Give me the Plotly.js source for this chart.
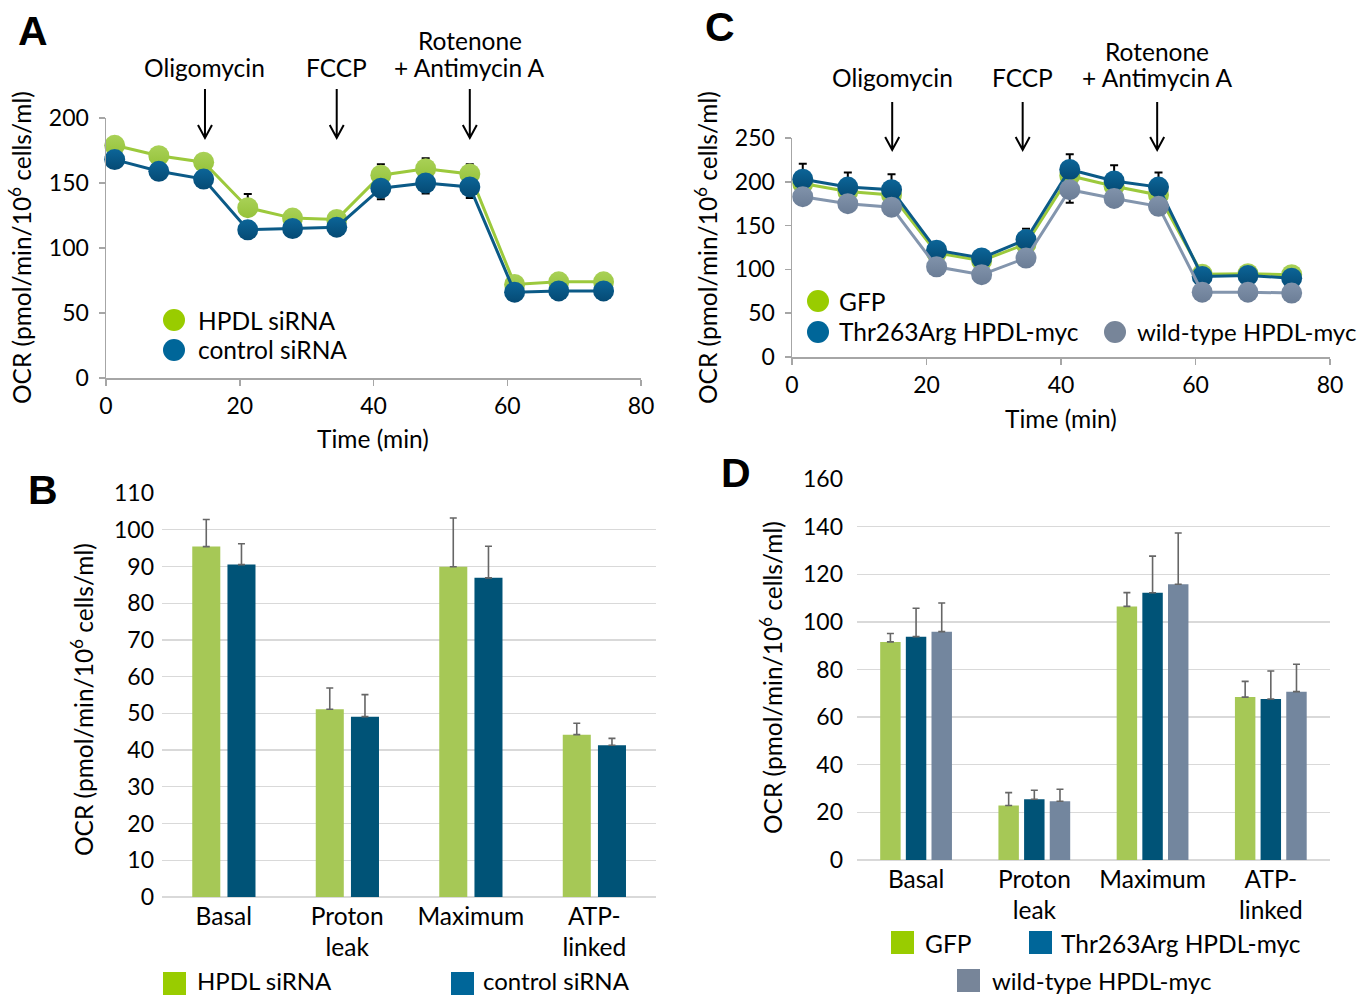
<!DOCTYPE html>
<html>
<head>
<meta charset="utf-8">
<script src="https://cdn.plot.ly/plotly-3.0.1.min.js"></script>
<style>
  html, body { margin: 0; padding: 0; background: #ffffff; }
  #chart { width: 1371px; height: 995px; }
</style>
</head>
<body>
<div id="chart"></div>
<script>
// ---------------- DATA ----------------
// Panel A: OCR time course after HPDL knock-down
const timeA = [1.3, 7.9, 14.6, 21.2, 27.9, 34.5, 41.1, 47.8, 54.4, 61.1, 67.7, 74.4];
const hpdlSiRNA = [179, 171, 166, 131, 123, 122, 156, 161, 157, 72, 74, 74];
const hpdlSiRNAErr = [3, 3, 3, 10.5, 3, 3, 8.5, 8, 7.5, 2, 2, 2];
const controlSiRNA = [168, 159, 153, 114, 115, 116, 146, 150, 147, 66, 67, 67];
const controlSiRNAErr = [3, 3, 3, 3, 3, 3, 8.5, 8, 8.5, 2, 2, 2];

// Panel C: OCR time course after HPDL expression
const timeC = [1.6, 8.3, 14.8, 21.5, 28.2, 34.8, 41.3, 47.9, 54.5, 61.0, 67.8, 74.3];
const gfp = [198, 189, 185, 119, 110, 129, 207, 195, 185, 94.5, 95, 94];
const gfpErr = [6, 6, 6, 5, 4, 5, 6, 6, 6, 3, 3, 3];
const thr263Arg = [203, 194, 191, 122, 113, 134, 214, 201, 194, 92, 93, 90];
const thr263ArgErr = [17.5, 16.5, 17.5, 9, 5, 12.5, 17.5, 18, 16.5, 4, 4, 4];
const wildType = [183, 175, 171, 103, 94, 113, 191, 181, 172, 74, 74, 73];
const wildTypeErr = [5, 5, 5, 5, 5, 5, 15, 5, 5, 3, 3, 3];

// Injection markers (min)
const drugLabels = [["Oligomycin"], ["FCCP"], ["Rotenone", "+ Antimycin A"]];
const drugTimesA = [14.8, 34.5, 54.4];
const drugTimesC = [14.9, 34.3, 54.3];

// Panels B & D: respiration parameters
const categories = ["Basal", "Proton<br>leak", "Maximum", "ATP-<br>linked"];
const barHpdlSiRNA = [95.4, 51.1, 89.9, 44.2];
const barHpdlSiRNAErr = [7.4, 5.8, 13.3, 3.1];
const barControlSiRNA = [90.5, 49.1, 86.9, 41.3];
const barControlSiRNAErr = [5.7, 6.0, 8.6, 1.9];

const barGfp = [91.6, 22.9, 106.5, 68.4];
const barGfpErr = [3.5, 5.4, 5.8, 6.6];
const barThr263Arg = [93.8, 25.5, 112.2, 67.6];
const barThr263ArgErr = [11.9, 3.8, 15.4, 11.8];
const barWildType = [95.9, 24.7, 115.8, 70.7];
const barWildTypeErr = [12.0, 5.0, 21.5, 11.5];

const seriesNamesA = ["HPDL siRNA", "control siRNA"];
const seriesNamesC = ["GFP", "Thr263Arg HPDL-myc", "wild-type HPDL-myc"];
const yTitle = "OCR (pmol/min/10<sup>6</sup> cells/ml)";
const xTitle = "Time (min)";

// ---------------- STYLE ----------------
const W = 1371, H = 995;
const X = p => p / W;
const Y = p => 1 - p / H;
const FONT = "Lato, 'Open Sans', sans-serif";
const FS = 24.5;     // text size
const TFS = 23;      // numeric tick size
const greenLine = "#9cc93c", greenMarker = "#a9d157", greenMarkerDark = "#95c23a";
const blueLine = "#0b5a87", blueMarker = "#0c6598", blueMarkerDark = "#054a74";
const grayLine = "#8395ad", grayMarker = "#8193ab", grayMarkerDark = "#6b7d96";
const barGreen = "#a6c856", barBlue = "#005377", barGray = "#73869e";
const legGreen = "#99cc00", legBlue = "#006699", legGray = "#778599";
const axisGray = "#a6a6a6", gridGray = "#d9d9d9", errGray = "#666666";

function lineTrace(x, y, err, dir, name, lc, mc, mcd, xa, ya) {
  const e = {type: "data", symmetric: false, color: "#000", thickness: 2, width: 4};
  const zeros = err.map(() => 0);
  if (dir === "up") { e.array = err; e.arrayminus = zeros; }
  else { e.array = zeros; e.arrayminus = err; }
  return {
    type: "scatter", mode: "lines+markers", x: x, y: y, name: name,
    xaxis: xa, yaxis: ya, cliponaxis: false, showlegend: false,
    line: {color: lc, width: 3},
    marker: {size: 21, color: mc, line: {width: 0}, gradient: {type: "vertical", color: mcd}},
    error_y: e
  };
}
function barTrace(y, err, name, color, offset, width, xa, ya) {
  return {
    type: "bar", x: categories, y: y, name: name, xaxis: xa, yaxis: ya,
    offset: offset, width: width, showlegend: false,
    marker: {color: color, line: {width: 0}},
    error_y: {type: "data", symmetric: false, array: err, arrayminus: err.map(() => 0),
              color: errGray, thickness: 1.6, width: 3.5}
  };
}

const traces = [
  lineTrace(timeA, hpdlSiRNA, hpdlSiRNAErr, "up", seriesNamesA[0], greenLine, greenMarker, greenMarkerDark, "x", "y"),
  lineTrace(timeA, controlSiRNA, controlSiRNAErr, "down", seriesNamesA[1], blueLine, blueMarker, blueMarkerDark, "x", "y"),
  lineTrace(timeC, gfp, gfpErr, "up", seriesNamesC[0], greenLine, greenMarker, greenMarkerDark, "x2", "y2"),
  lineTrace(timeC, thr263Arg, thr263ArgErr, "up", seriesNamesC[1], blueLine, blueMarker, blueMarkerDark, "x2", "y2"),
  lineTrace(timeC, wildType, wildTypeErr, "down", seriesNamesC[2], grayLine, grayMarker, grayMarkerDark, "x2", "y2"),
  barTrace(barHpdlSiRNA, barHpdlSiRNAErr, seriesNamesA[0], barGreen, -0.255, 0.227, "x3", "y3"),
  barTrace(barControlSiRNA, barControlSiRNAErr, seriesNamesA[1], barBlue, 0.030, 0.227, "x3", "y3"),
  barTrace(barGfp, barGfpErr, seriesNamesC[0], barGreen, -0.304, 0.173, "x4", "y4"),
  barTrace(barThr263Arg, barThr263ArgErr, seriesNamesC[1], barBlue, -0.087, 0.173, "x4", "y4"),
  barTrace(barWildType, barWildTypeErr, seriesNamesC[2], barGray, 0.130, 0.173, "x4", "y4")
];

const tickFont = {family: FONT, size: TFS, color: "#000"};
const catFont = {family: FONT, size: FS, color: "#000"};
function lineX(domain, anchor) {
  return {domain: domain, anchor: anchor, range: [0, 80], dtick: 20, tick0: 0,
    showline: true, linecolor: axisGray, linewidth: 1.5, ticks: "outside", ticklen: 6,
    tickcolor: axisGray, tickwidth: 1.5, showgrid: false, zeroline: false, tickfont: tickFont,
    ticklabelstandoff: 1, fixedrange: true};
}
function lineY(domain, anchor, top, dt) {
  return {domain: domain, anchor: anchor, range: [0, top], dtick: dt, tick0: 0,
    showline: true, linecolor: axisGray, linewidth: 1.5, ticks: "outside", ticklen: 6,
    tickcolor: axisGray, tickwidth: 1.5, showgrid: false, zeroline: false, tickfont: tickFont,
    ticklabelstandoff: 5, fixedrange: true};
}
function barX(domain, anchor) {
  return {domain: domain, anchor: anchor, type: "category", showline: false, ticks: "",
    showgrid: false, zeroline: false, tickfont: catFont, ticklabelstandoff: 2, fixedrange: true};
}
function barY(domain, anchor, top, dt, standoff) {
  return {domain: domain, anchor: anchor, range: [0, top], dtick: dt, tick0: 0,
    showline: false, ticks: "", showgrid: true, gridcolor: gridGray, gridwidth: 1.3,
    zeroline: true, zerolinecolor: gridGray, zerolinewidth: 1.5,
    tickfont: tickFont, ticklabelstandoff: standoff, fixedrange: true};
}

const layout = {
  width: W, height: H,
  margin: {l: 0, r: 0, t: 0, b: 0},
  paper_bgcolor: "#fff", plot_bgcolor: "rgba(0,0,0,0)",
  showlegend: false, barmode: "overlay",
  font: {family: FONT, size: FS, color: "#000"},
  xaxis: lineX([X(106), X(641)], "y"),
  yaxis: lineY([Y(378), Y(118)], "x", 200, 50),
  xaxis2: lineX([X(792), X(1330)], "y2"),
  yaxis2: lineY([Y(357), Y(138)], "x2", 250, 50),
  xaxis3: barX([X(162), X(656)], "y3"),
  yaxis3: barY([Y(897), Y(493)], "x3", 110, 10, 7),
  xaxis4: barX([X(857), X(1330)], "y4"),
  yaxis4: barY([Y(860), Y(479)], "x4", 160, 20, 13),
  annotations: [],
  shapes: []
};

const ann = layout.annotations, shp = layout.shapes;
function txt(text, x, y, opts) {
  ann.push(Object.assign({text: text, x: x, y: y, xref: "paper", yref: "paper",
    showarrow: false, xanchor: "center", yanchor: "middle", borderpad: 0,
    font: {family: FONT, size: FS, color: "#000"}}, opts || {}));
}
// panel letters
const letterFont = {family: "'Liberation Sans', Arial, sans-serif", size: 41, color: "#000"};
txt("<b>A</b>", X(33), Y(31), {font: letterFont});
txt("<b>B</b>", X(43), Y(490), {font: letterFont});
txt("<b>C</b>", X(720), Y(27), {font: letterFont});
txt("<b>D</b>", X(736), Y(473), {font: letterFont});

// axis titles
txt(yTitle, X(20), Y(248), {textangle: -90});
txt(yTitle, X(706), Y(248), {textangle: -90});
txt(yTitle, X(82), Y(700), {textangle: -90});
txt(yTitle, X(771), Y(677), {textangle: -90});
txt(xTitle, X(373), Y(438));
txt(xTitle, X(1061), Y(418));

// drug injections with arrows
function drugs(times, xref, labelYs, arrowTop, arrowTip, pxPerMin) {
  times.forEach((t, i) => {
    const lines = drugLabels[i];
    const ys = lines.length === 1 ? [labelYs[1]] : labelYs;
    lines.forEach((l, j) => {
      ann.push({text: l, x: t, y: Y(ys[j]), xref: xref, yref: "paper", showarrow: false,
        xanchor: "center", yanchor: "middle", borderpad: 0,
        font: {family: FONT, size: FS, color: "#000"}});
    });
    const hw = 7 / pxPerMin;
    const path = `M ${t},${Y(arrowTop)} L ${t},${Y(arrowTip)} M ${t - hw},${Y(arrowTip - 13)} L ${t},${Y(arrowTip)} L ${t + hw},${Y(arrowTip - 13)}`;
    shp.push({type: "path", xref: xref, yref: "paper", path: path, line: {color: "#000", width: 2}});
  });
}
drugs(drugTimesA, "x", [41, 67], 89, 138, 6.69);
drugs(drugTimesC, "x2", [51, 78], 102, 150, 6.72);

// legends (swatches + labels)
function circ(cx, cy, r, color) {
  shp.push({type: "circle", xref: "paper", yref: "paper", x0: X(cx - r), x1: X(cx + r),
    y0: Y(cy + r), y1: Y(cy - r), fillcolor: color, line: {width: 0}});
}
function sq(x0, y0, x1, y1, color) {
  shp.push({type: "rect", xref: "paper", yref: "paper", x0: X(x0), x1: X(x1),
    y0: Y(y1), y1: Y(y0), fillcolor: color, line: {width: 0}});
}
function legText(text, x, y, size) {
  txt(text, X(x), Y(y), {xanchor: "left", font: {family: FONT, size: size || FS, color: "#000"}});
}

circ(174, 320, 11, legGreen); legText(seriesNamesA[0], 197, 320);
circ(174, 350, 11, legBlue); legText(seriesNamesA[1], 197, 350);

circ(818, 301, 11, legGreen); legText(seriesNamesC[0], 838, 301);
circ(818, 332, 11, legBlue); legText(seriesNamesC[1], 838, 332);
circ(1115, 332, 11, legGray); legText(seriesNamesC[2], 1136, 332, 24);

sq(163, 972, 186, 995, legGreen); legText(seriesNamesA[0], 196, 980, 24);
sq(451, 972, 474, 995, legBlue); legText(seriesNamesA[1], 482, 980, 24);

sq(891, 931, 914, 954, legGreen); legText(seriesNamesC[0], 924, 943);
sq(1029, 931, 1052, 954, legBlue); legText(seriesNamesC[1], 1060, 943);
sq(957, 969, 980, 992, legGray); legText(seriesNamesC[2], 991, 980, 24);

Plotly.newPlot("chart", traces, layout, {displayModeBar: false, staticPlot: true});
</script>
</body>
</html>
